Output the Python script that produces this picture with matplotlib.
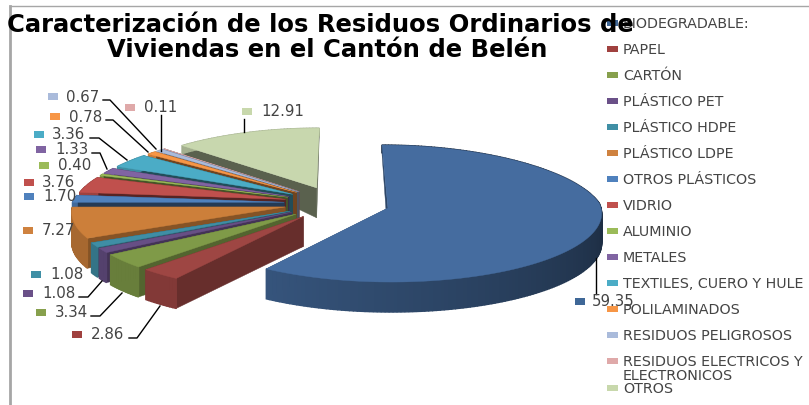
import matplotlib
matplotlib.use("Agg")  # Non-interactive backend
import matplotlib.pyplot as plt
from matplotlib.colors import to_rgb
from matplotlib.patches import Polygon, Rectangle
import numpy as np

# ── Data ────────────────────────────────────────────────────────────────

CATEGORIES = [
    "BIODEGRADABLE:", "PAPEL", "CARTÓN", "PLÁSTICO PET", "PLÁSTICO HDPE",
    "PLÁSTICO LDPE", "OTROS PLÁSTICOS", "VIDRIO", "ALUMINIO", "METALES",
    "TEXTILES, CUERO Y HULE", "POLILAMINADOS", "RESIDUOS PELIGROSOS",
    "RESIDUOS ELECTRICOS Y\nELECTRONICOS", "OTROS",
]
VALUES = [59.35, 2.86, 3.34, 1.08, 1.08, 7.27, 1.70, 3.76, 0.40, 1.33,
          3.36, 0.78, 0.67, 0.11, 12.91]
VALUE_LABELS = ["59.35", "2.86", "3.34", "1.08", "1.08", "7.27", "1.70", "3.76",
                "0.40", "1.33", "3.36", "0.78", "0.67", "0.11", "12.91"]

# ── Styling ─────────────────────────────────────────────────────────────

KEY_COLORS = ["#3F6797", "#A0413F", "#87A04D", "#6A5088", "#3F8FA5",
              "#CF823F", "#4F81BD", "#C0504D", "#9BBB59", "#8064A2",
              "#4BACC6", "#F79646", "#AABBDB", "#DFA9A9", "#C8D8AC"]
TOP_COLORS = ["#456C9F", "#9E4643", "#7F9A48", "#674F85", "#3F8EA5",
              "#CC7F3A", "#4F81BD", "#C0504D", "#9BBB59", "#8064A2",
              "#4BACC6", "#F79646", "#AABBDB", "#DFA9A9", "#C8D7AE"]
TEXT_COLOR = "#444444"

EXPLODE = 0.25

# swatch left x, text left x, text centre y (pixels), same order as VALUES
LABEL_POS = [(575, 592, 302), (72, 91, 335), (36, 55, 313), (23, 42, 294),
             (31, 50, 275), (23, 42, 231), (24, 43, 197), (24, 42, 183),
             (39, 58, 166), (36, 55, 150), (34, 52, 135), (50, 69, 117),
             (48, 66, 97), (125, 144, 108), (242, 261, 112)]
LEADERS = [
    [(596, 259), (596, 295)],
    [(129, 339), (137, 339), (160, 307)],
    [(91, 317), (100, 317), (122, 294)],
    [(79, 298), (88, 298), (102, 282)],
    [(90, 139), (99, 139), (127, 161)],
    [(92, 154), (100, 154), (107, 170)],
    [(106, 121), (113, 121), (148, 153)],
    [(103, 101), (110, 101), (156, 150)],
    [(161, 116), (161, 152)],
    [(244, 120), (244, 133)],
]
LEGEND_Y = [24, 50, 76, 102, 128, 154, 180, 206, 232, 258, 284, 310, 336, 369, 389]


def project(u, v):
    """Pie-plane coordinates to pixels, with a little perspective."""
    scale = np.where(v > 0, 1 - 0.123 * v, 1 - 0.065 * v)
    x = 337 + 212 * u * scale
    y = 204.1 - 67.7 * v + 5.5 * v ** 2
    return x, y


def depth(v):
    # the wall looks thinner towards the back of the pie
    return np.clip(30 - 33 * (v - 0.25), 8, 30)


def shade(color, factor):
    return tuple(c * factor for c in to_rgb(color))


def add_poly(ax, xs, ys, color, zorder, lw=0.3):
    ax.add_patch(Polygon(np.column_stack([xs, ys]), closed=True, facecolor=color,
                         edgecolor=color, linewidth=lw, zorder=zorder))


def draw_slice(ax, start, sweep, color, zorder, gradient=False):
    mid = start + sweep / 2
    du = EXPLODE * np.sin(mid)
    dv = EXPLODE * np.cos(mid)
    ts = np.linspace(start, start + sweep, max(int(np.degrees(sweep)), 2) + 1)
    rim_v = np.cos(ts) + dv
    rim_x, rim_y = project(np.sin(ts) + du, rim_v)
    apex_x, apex_y = project(np.array(du), np.array(dv))
    rim_d = depth(rim_v)
    apex_d = depth(dv)

    # radial walls, then outer wall, then the top face over them
    radial = 0.65 if np.cos(mid) < 0 else 0.45
    for i in (0, -1):
        add_poly(ax, [apex_x, rim_x[i], rim_x[i], apex_x],
                 [apex_y, rim_y[i], rim_y[i] + rim_d[i], apex_y + apex_d],
                 shade(color, radial), zorder)
    for i in range(len(ts) - 1):
        if gradient:
            frac = np.clip((ts[i] - ts[0]) / (ts[-1] - ts[0]), 0, 1)
            factor = 0.42 + 0.36 * np.clip((frac - 0.45) / 0.55, 0, 1)
        else:
            factor = 0.82
        add_poly(ax, [rim_x[i], rim_x[i + 1], rim_x[i + 1], rim_x[i]],
                 [rim_y[i], rim_y[i + 1], rim_y[i + 1] + rim_d[i + 1], rim_y[i] + rim_d[i]],
                 shade(color, factor), zorder, lw=1.0)
    add_poly(ax, np.r_[apex_x, rim_x], np.r_[apex_y, rim_y], color, zorder)


def main():
    fig = plt.figure(figsize=(8.09, 4.06), dpi=100)
    ax = fig.add_axes([0, 0, 1, 1])
    ax.set_xlim(0, 809)
    ax.set_ylim(406, 0)
    ax.axis("off")

    # chart frame
    ax.plot([10, 10], [7, 406], color="#A6A6A6", linewidth=2, zorder=1)
    ax.plot([10, 809], [7, 7], color="#A6A6A6", linewidth=1, zorder=1)

    # pie slices, far ones first
    sweeps = np.array(VALUES) / sum(VALUES) * 2 * np.pi
    starts = np.r_[0, np.cumsum(sweeps)[:-1]]
    order = np.argsort(-np.cos(starts + sweeps / 2))
    for z, i in enumerate(order):
        draw_slice(ax, starts[i], sweeps[i], TOP_COLORS[i], 2 + z * 0.01, gradient=i == 0)

    # data labels
    for pts in LEADERS:
        xs, ys = zip(*pts)
        ax.plot(xs, ys, color="black", linewidth=1, zorder=4)
    for label, color, (sx, tx, y) in zip(VALUE_LABELS, KEY_COLORS, LABEL_POS):
        ax.add_patch(Rectangle((sx, y - 3.5), 10, 7, facecolor=color, edgecolor="none", zorder=5))
        ax.text(tx, y, label, fontsize=10.8, color=TEXT_COLOR, va="center", ha="left", zorder=6)

    # legend
    for name, color, y in zip(CATEGORIES, KEY_COLORS, LEGEND_Y):
        key_y = 362 if "\n" in name else y
        ax.add_patch(Rectangle((607, key_y - 3), 11, 6, facecolor=color, edgecolor="none", zorder=5))
        ax.text(623, y, name, fontsize=10.3, color=TEXT_COLOR, va="center", ha="left",
                linespacing=1.0, zorder=6)

    # title
    ax.text(320.5, 25, "Caracterización de los Residuos Ordinarios de", fontsize=17.5,
            fontweight="bold", color="black", ha="center", va="center", zorder=7)
    ax.text(327, 50, "Viviendas en el Cantón de Belén", fontsize=17.5,
            fontweight="bold", color="black", ha="center", va="center", zorder=7)

    fig.savefig("out.png", dpi=100)
    plt.close(fig)


if __name__ == "__main__":
    main()
